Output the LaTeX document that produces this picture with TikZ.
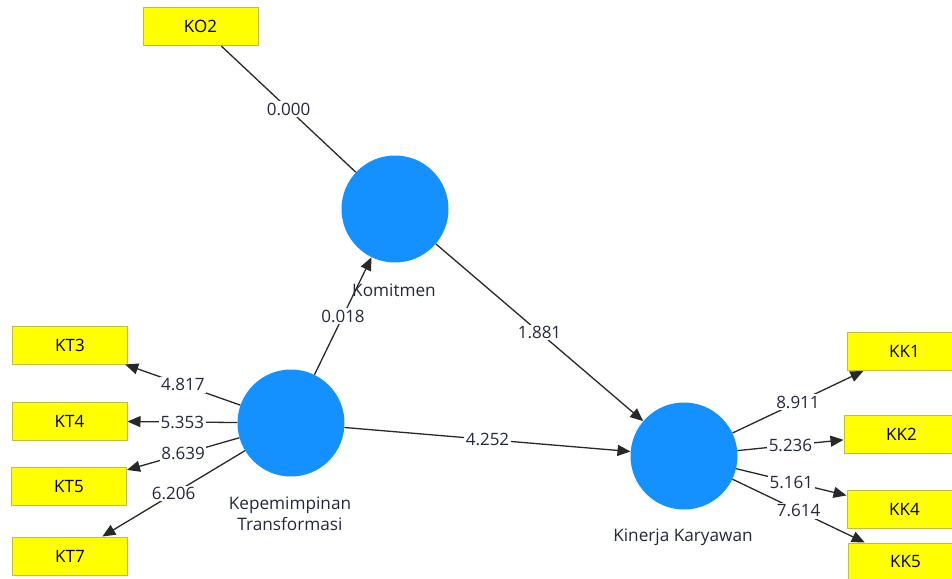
\documentclass[tikz,border=0pt]{standalone}
\usepackage{fontspec}
\setmainfont{Open Sans}
\usetikzlibrary{arrows.meta}
\definecolor{lvblue}{RGB}{20,144,255}
\definecolor{mvyellow}{RGB}{255,255,0}
\definecolor{mvborder}{RGB}{190,190,70}
\definecolor{linkgray}{RGB}{40,40,40}
\definecolor{coefgray}{RGB}{35,40,60}
\begin{document}
\begin{tikzpicture}[x=1pt,y=-1pt,
  latent/.style={circle,fill=lvblue,minimum size=107pt,inner sep=0pt},
  indicator/.style={rectangle,fill=mvyellow,draw=mvborder,line width=1pt,
    minimum width=115pt,minimum height=38pt,inner sep=0pt,
    font=\fontsize{17}{20}\selectfont},
  link/.style={draw=linkgray,line width=1.3pt,-{Triangle[length=13pt,width=11pt]}},
  coef/.style={fill=white,inner sep=1.5pt,text=coefgray,font=\fontsize{17}{20}\selectfont},
  lvlabel/.style={align=center,text=coefgray,font=\fontsize{17.2}{21}\selectfont}
]
  \useasboundingbox (0,0) rectangle (952,578);

  \node[latent] (KOM) at (395,209) {};
  \node[latent] (KEP) at (291,423) {};
  \node[latent] (KIN) at (684,456) {};

  \node[lvlabel] (KOMtext) at (394,290) {Komitmen};
  \node[lvlabel] (KEPtext) at (290,514) {Kepemimpinan\\Transformasi};
  \node[lvlabel] (KINtext) at (683,537) {Kinerja Karyawan};

  \node[indicator] (KO2) at (200.5,26.5) {KO2};
  \node[indicator] (KT3) at (70,345) {KT3};
  \node[indicator] (KT4) at (69.5,421) {KT4};
  \node[indicator] (KT5) at (69,486.5) {KT5};
  \node[indicator] (KT7) at (70,556) {KT7};
  \node[indicator] (KK1) at (904.5,351.5) {KK1};
  \node[indicator] (KK2) at (901.5,434) {KK2};
  \node[indicator] (KK4) at (904.5,509.5) {KK4};
  \node[indicator] (KK5) at (905.5,562) {KK5};

  \draw[link,-] (KO2) -- node[coef] {0.000} (KOM);
  \draw[link] (KEP) -- node[coef] {0.018} (KOM);
  \draw[link] (KOM) -- node[coef] {1.881} (KIN);
  \draw[link] (KEP) -- node[coef] {4.252} (KIN);

  \draw[link] (KEP) -- node[coef] {4.817} (KT3);
  \draw[link] (KEP) -- node[coef] {5.353} (KT4);
  \draw[link] (KEP) -- node[coef] {8.639} (KT5);
  \draw[link] (KEP) -- node[coef] {6.206} (KT7);

  \draw[link] (KIN) -- node[coef] {8.911} (KK1);
  \draw[link] (KIN) -- node[coef] {5.236} (KK2);
  \draw[link] (KIN) -- node[coef] {5.161} (KK4);
  \draw[link] (KIN) -- node[coef] {7.614} (KK5);
\end{tikzpicture}
\end{document}
